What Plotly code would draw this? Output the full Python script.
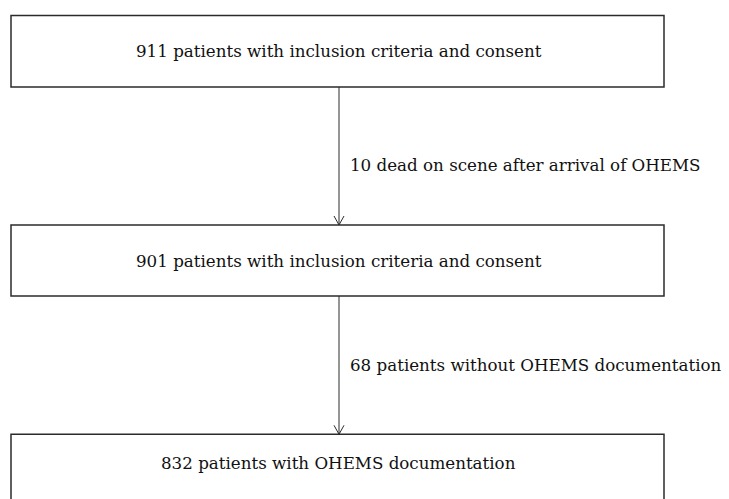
import plotly.graph_objects as go

# ---- data ----
stage_counts = [911, 901, 832]
stage_texts = ["patients with inclusion criteria and consent",
               "patients with inclusion criteria and consent",
               "patients with OHEMS documentation"]
excluded_counts = [10, 68]
excluded_texts = ["dead on scene after arrival of OHEMS",
                  "patients without OHEMS documentation"]

# ---- layout geometry (pixels) ----
W, H = 729, 499
box_left, box_right = 11, 664
box_tops = [15.5, 225, 434.3]
box_bottoms = [87, 296, 520]
arrow_x = 339
label_x = 348
label_ys = [165, 365]
FONT = "DejaVu Serif"
FSIZE = 16.7
LINE = "#2b2b2b"

fig = go.Figure()
shapes = []
annotations = []

for i, (n, t) in enumerate(zip(stage_counts, stage_texts)):
    top, bot = box_tops[i], box_bottoms[i]
    shapes.append(dict(type="rect", x0=box_left, x1=box_right, y0=top, y1=bot,
                       line=dict(color=LINE, width=1.5), fillcolor="white", layer="below"))
    cy = (top + bot) / 2 if i < 2 else 463
    annotations.append(dict(x=(box_left + box_right) / 2 + 1, y=cy, text=f"{n} {t}",
                            showarrow=False, xanchor="center", yanchor="middle",
                            font=dict(family=FONT, size=FSIZE, color="#111")))

for i, (n, t) in enumerate(zip(excluded_counts, excluded_texts)):
    y0 = box_bottoms[i]
    y1 = box_tops[i + 1]
    shapes.append(dict(type="line", x0=arrow_x, x1=arrow_x, y0=y0, y1=y1,
                       line=dict(color=LINE, width=1)))
    shapes.append(dict(type="path",
                       path=f"M {arrow_x-5},{y1-9} L {arrow_x},{y1} L {arrow_x+5},{y1-9}",
                       line=dict(color=LINE, width=1)))
    annotations.append(dict(x=label_x, y=label_ys[i], text=f"{n} {t}",
                            showarrow=False, xanchor="left", yanchor="middle",
                            font=dict(family=FONT, size=FSIZE, color="#111")))

fig.update_layout(
    width=W, height=H,
    margin=dict(l=0, r=0, t=0, b=0),
    paper_bgcolor="white", plot_bgcolor="white",
    xaxis=dict(range=[0, W], visible=False, fixedrange=True),
    yaxis=dict(range=[H, 0], visible=False, fixedrange=True),
    shapes=shapes, annotations=annotations, showlegend=False,
)
fig.write_html("out.html", config={"displayModeBar": False},
               post_script="document.body.style.margin='0';document.body.style.overflow='hidden';")
